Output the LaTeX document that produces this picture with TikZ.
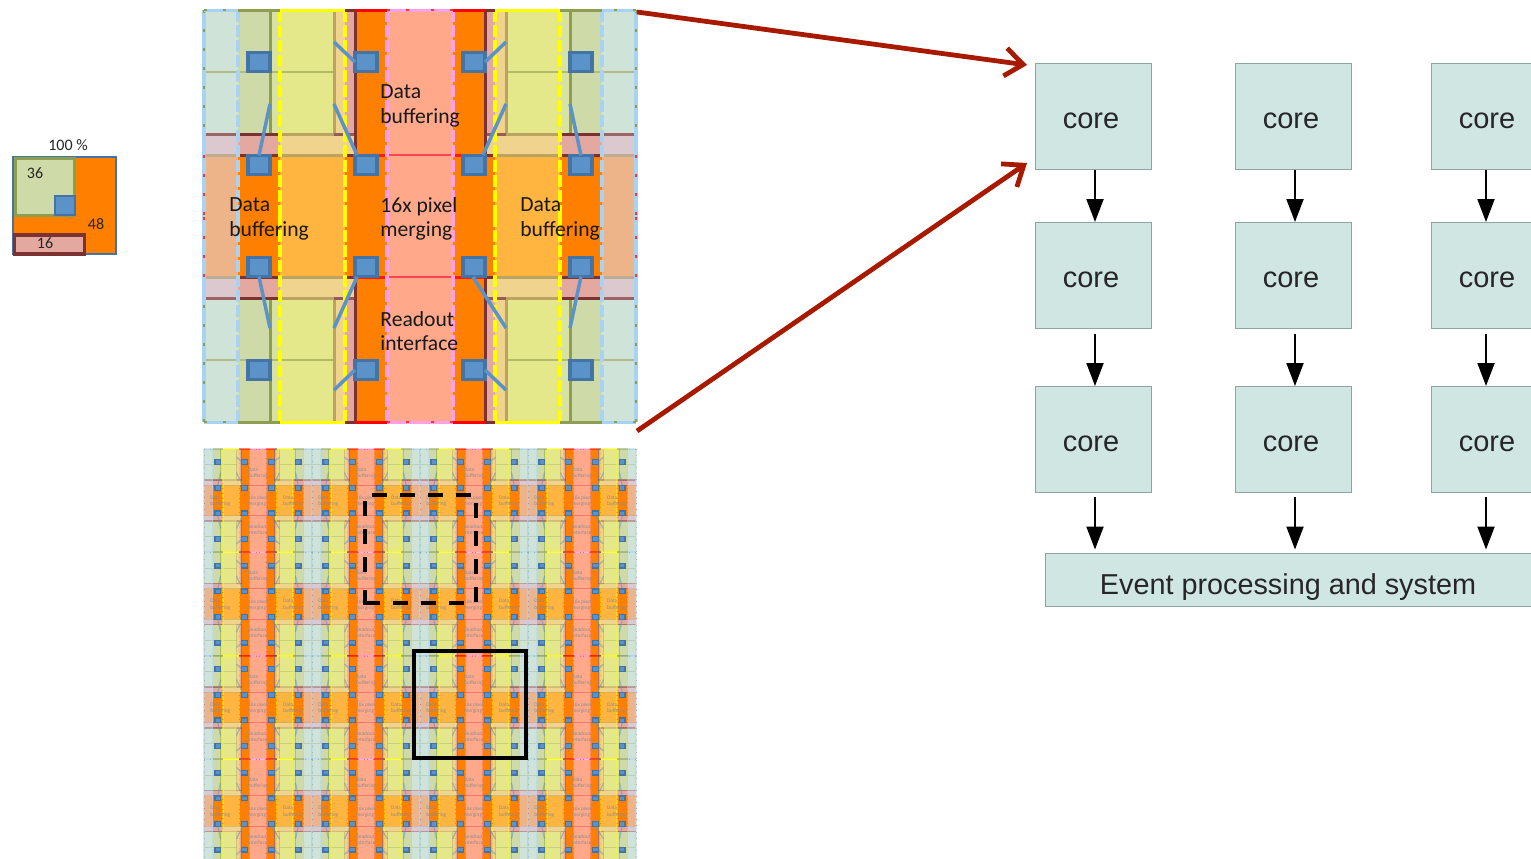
\documentclass[tikz,border=0pt]{standalone}
\usepackage{fontspec}
\setmainfont{Carlito}
\newfontfamily\arialf{Liberation Sans}
\usetikzlibrary{arrows.meta}
\definecolor{tgreen}{HTML}{CFE3D8}
\definecolor{tolive}{HTML}{CEDAA8}
\definecolor{tlime}{HTML}{D8E2A4}
\definecolor{tyel}{HTML}{E4E88A}
\definecolor{ttan}{HTML}{F0D48E}
\definecolor{tpink}{HTML}{E3A9A0}
\definecolor{torange}{HTML}{FF7F00}
\definecolor{tsalmon}{HTML}{FFA98A}
\definecolor{tmauve}{HTML}{DCC9D0}
\definecolor{tpeach}{HTML}{EDB48A}
\definecolor{tamber}{HTML}{FFB53F}
\definecolor{tbrown}{HTML}{7B3230}
\definecolor{tkhaki}{HTML}{BBA462}
\definecolor{tmoss}{HTML}{8E9E50}
\definecolor{tsky}{HTML}{A9D3F2}
\definecolor{tdash}{HTML}{FFFF00}
\definecolor{tmag}{HTML}{FF9FE6}
\definecolor{tblue}{HTML}{5B93C8}
\definecolor{tblueb}{HTML}{4473A5}
\definecolor{coref}{HTML}{CFE6E2}
\definecolor{coreb}{HTML}{8FA3A0}
\definecolor{redarrow}{HTML}{A81A00}
\tikzset{
  lw/.style={line width=#1*\ts*0.5pt,draw opacity=\lo},
  bsq/.style={draw=tblueb,fill=tblue,lw=3.5,draw opacity=1,inner sep=0pt,outer sep=0pt,minimum width=11pt,minimum height=9.5pt,transform shape},
  blink/.style={draw=tblue,lw=3.5},
  tiletext/.style={font=\fontsize{10.8}{12.3}\selectfont,text=black!\tc,align=left,anchor=west,inner sep=0pt,transform shape},
  corebox/.style={draw=coreb,fill=coref,line width=0.5pt,minimum width=58pt,minimum height=53pt,inner sep=0pt,text height=12pt,text depth=0pt,font=\arialf\fontsize{14.5}{16}\selectfont,text=black!85},
  evbox/.style={draw=coreb,fill=coref,line width=0.5pt,minimum width=243pt,minimum height=26.5pt,inner sep=0pt,text height=14.5pt,text depth=0pt,font=\arialf\fontsize{14.4}{16}\selectfont,text=black!85},
  flow/.style={-{Triangle[length=11.5pt,width=8.5pt]},line width=1pt,black},
  redflow/.style={-{Straight Barb[length=9pt,width=14pt]},line width=2.4pt,redarrow},
  smalltext/.style={font=\fontsize{8}{9}\selectfont,text=black!85,inner sep=0pt},
  dashedge/.style={draw=black,line width=2pt,dash pattern=on 7.5pt off 6.5pt},
}
% one quarter of a tile, in upper-left coordinates; #1 name prefix; #2 x of link start
\newcommand{\tquarter}[2]{%
  \fill[tgreen] (204,10) rectangle (238,134);
  \fill[tolive] (238,10) rectangle (270,134);
  \fill[tlime] (270,10) rectangle (280,134);
  \fill[tyel] (280,10) rectangle (334,134);
  \fill[ttan] (334,10) rectangle (345,134);
  \fill[tpink] (345,10) rectangle (355,134);
  \fill[tmauve] (204,134) rectangle (238,155);
  \fill[tpink] (238,134) rectangle (280,155);
  \fill[ttan] (280,134) rectangle (355,155);
  \fill[tpeach] (204,155) rectangle (238,216.5);
  \fill[torange] (238,155) rectangle (280,216.5);
  \fill[tamber] (280,155) rectangle (345,216.5);
  \fill[torange] (345,155) rectangle (387,216.5);
  \fill[torange] (355,10) rectangle (387,155);
  \fill[tsalmon] (387,10) rectangle (420.5,216.5);
  \draw[lw=2,tmoss!70] (204,72) -- (270,72);
  \draw[lw=2,tmoss!60!tyel] (270,72) -- (334,72);
  \draw[lw=3,tmoss] (270,10) -- (270,134);
  \draw[lw=3,tkhaki] (334,10) -- (334,134);
  \draw[lw=3,tbrown!75] (204,134) -- (238,134);
  \draw[lw=3,tbrown] (238,134) -- (280,134);
  \draw[lw=3,tkhaki] (280,134) -- (334,134);
  \draw[lw=3,tbrown!80] (334,134) -- (355,134);
  \draw[lw=3,tkhaki!50!tmauve!80!gray] (204,155) -- (238,155);
  \draw[lw=3,tbrown] (238,155) -- (280,155);
  \draw[lw=3,tkhaki] (280,155) -- (345,155);
  \draw[lw=3,tbrown] (345,155) -- (355,155);
  \draw[lw=3,red!90] (355,155) -- (387,155);
  \draw[lw=3,tbrown] (355,10) -- (355,155);
  \draw[lw=2.5,red!55!tsalmon!90!magenta] (387,155) -- (420.5,155);
  \draw[lw=3.5,tsky,dash pattern=on \dashA pt off \dashB pt] (238,10) -- (238,216.5);
  \draw[lw=4,tdash,dash pattern=on \dashA pt off \dashB pt] (280,10) -- (280,216.5);
  \draw[lw=4,tdash,dash pattern=on \dashA pt off \dashB pt] (345,10) -- (345,216.5);
  \draw[lw=4,tmag,dash pattern=on \dashA pt off \dashB pt] (387,10) -- (387,216.5);
  \draw[lw=4,tsky] (204,10) -- (204,216.5);
  \draw[lw=2.5,tmoss,dash pattern=on \dashC pt off \dashD pt] (204,10) -- (204,134);
  \draw[lw=2.5,red!80,dash pattern=on \dashC pt off \dashD pt] (204,155) -- (204,216.5);
  \draw[lw=3,tsky] (204,10) -- (238,10);
  \draw[lw=2.5,tmoss,dash pattern=on \dashC pt off \dashD pt] (204,10) -- (238,10);
  \draw[lw=3,tmoss] (238,10) -- (280,10);
  \draw[lw=3,tdash] (280,10) -- (345,10);
  \draw[lw=3,tbrown] (345,10) -- (355,10);
  \draw[lw=3,red] (355,10) -- (387,10);
  \draw[lw=3,tmag] (387,10) -- (420.5,10);
  \draw[lw=2.5,red!80,dash pattern=on \dashC pt off \dashD pt] (387,10) -- (420.5,10);
  \node[bsq] (#1a) at (259,62) {};
  \node[bsq] (#1b) at (366,62) {};
  \node[bsq] (#1c) at (259,165) {};
  \node[bsq] (#1d) at (366,165) {};
  \coordinate (#1e) at (334,42);
  \coordinate (#1f) at (270,104);
  \coordinate (#1g) at (334,104);
  \coordinate (#1h) at (355,62);
  \coordinate (#1i) at (#2,155);
  \draw[blink] (#1e) -- (#1h);
  \draw[blink] (#1f) -- (#1c.north);
  \draw[blink] (#1g) -- (#1i);
}
% whole tile: #1 = name prefix, placed by the surrounding scope
\newcommand{\wholetile}[1]{%
  \begin{scope}\tquarter{#1p}{357}\end{scope}
  \begin{scope}[shift={(840,0)},xscale=-1]\tquarter{#1q}{357}\end{scope}
  \begin{scope}[shift={(0,432)},yscale=-1]\tquarter{#1r}{357}\end{scope}
  \begin{scope}[shift={(840,432)},xscale=-1,yscale=-1]\tquarter{#1s}{367}\end{scope}
  \node[tiletext] (#1t1) at (380,106) {Data\\buffering};
  \node[tiletext] (#1t2) at (380,219) {16x pixel\\merging};
  \node[tiletext] (#1t3) at (380,331) {Readout\\interface};
  \node[tiletext] (#1t4) at (229,219) {Data\\buffering};
  \node[tiletext] (#1t5) at (520,219) {Data\\buffering};
}
\begin{document}
\begin{tikzpicture}[x=0.5pt,y=-0.5pt]
\useasboundingbox (0,0) rectangle (1531,858);
\clip (0,0) rectangle (1531,858);
% legend
\node[draw=tblueb,fill=torange,line width=1.3pt,minimum width=51.5pt,minimum height=48.5pt,inner sep=0pt] (lgout) at (64.5,205.5) {};
\node[draw=tmoss,fill=tolive,line width=1.6pt,minimum width=29.5pt,minimum height=28.5pt,inner sep=0pt] (lggreen) at (45,187) {};
\node[draw=tblueb,fill=tblue,line width=1.4pt,minimum width=10pt,minimum height=9.5pt,inner sep=0pt] (lgblue) at (65,205.5) {};
\node[draw=tbrown,fill=tpink,line width=1.6pt,minimum width=35pt,minimum height=9.5pt,inner sep=0pt] (lgpink) at (49.5,244.5) {};
\node[smalltext] (lg100) at (68,145) {100 \%};
\node[smalltext] (lg36) at (35,173) {36};
\node[smalltext] (lg48) at (96,224) {48};
\node[smalltext] (lg16) at (45,243) {16};
% big tile
\def\ts{1}\def\lo{1}\def\tc{90}\def\dashA{6}\def\dashB{1.5}\def\dashC{1.5}\def\dashD{8}
\wholetile{big}
% array of small tiles
\def\ts{0.35}\def\lo{0.5}\def\tc{45}\def\dashA{2}\def\dashB{0.5}\def\dashC{0.5}\def\dashD{2.5}
\foreach \c in {0,1,2,3}{
  \foreach \r in {0,1,2,3}{
    \begin{scope}[shift={({204+108*\c},{449+103.5*\r})},scale=0.25,shift={(-204,-10)}]
      \wholetile{s\c\r}
    \end{scope}
  }
}
% overlay boxes
\coordinate (dA) at (365,590);
\coordinate (dB) at (365,603);
\coordinate (dC) at (380,603);
\coordinate (dD) at (393,603);
\coordinate (dE) at (476,603);
\coordinate (dF) at (476,495);
\coordinate (dG) at (365,495);
\coordinate (dH) at (365,580);
\draw[draw=black,line width=2pt,line join=miter] (dA) -- (dB) -- (dC);
\draw[dashedge] (dD) -- (dE) -- (dF) -- (dG) -- (dH);
\node[draw=black,line width=2pt,minimum width=56pt,minimum height=53.5pt,inner sep=0pt] (solidbox) at (470,704.5) {};
% cores
\newcommand{\coretext}{core\kern2pt}
\node[corebox] (c11) at (1093,116) {\coretext};
\node[corebox] (c12) at (1293,116) {\coretext};
\node[corebox] (c13) at (1489,116) {\coretext};
\node[corebox] (c21) at (1093,275.5) {\coretext};
\node[corebox] (c22) at (1293,275.5) {\coretext};
\node[corebox] (c23) at (1489,275.5) {\coretext};
\node[corebox] (c31) at (1093,439.5) {\coretext};
\node[corebox] (c32) at (1293,439.5) {\coretext};
\node[corebox] (c33) at (1489,439.5) {\coretext};
\node[evbox] (ev) at (1288,579.5) {Event processing and system};
\foreach \u/\v/\sh in {c11/c21/2,c12/c22/2,c13/c23/-3}{
  \draw[flow] ([xshift=\sh*0.5pt]\u.south) -- ([xshift=\sh*0.5pt]\v.north);
}
\foreach \u/\v/\sh in {c21/c31/2,c22/c32/2,c23/c33/-3}{
  \draw[flow] ([xshift=\sh*0.5pt,yshift=-2.5pt]\u.south) -- ([xshift=\sh*0.5pt]\v.north);
}
\foreach \u/\sh in {c31/2,c32/2,c33/-3}{
  \coordinate (e\u) at ([xshift=\sh*0.5pt]\u.south |- ev.north);
  \draw[flow] ([xshift=\sh*0.5pt,yshift=-2pt]\u.south) -- ([yshift=1.5pt]e\u);
}
% red arrows
\coordinate (tiletop) at (637,12);
\coordinate (tilebot) at (637,431);
\coordinate (coretop) at (1027,65);
\coordinate (corebot) at (1027,163);
\draw[redflow] (tiletop) -- (coretop);
\draw[redflow] (tilebot) -- (corebot);
\end{tikzpicture}
\end{document}
